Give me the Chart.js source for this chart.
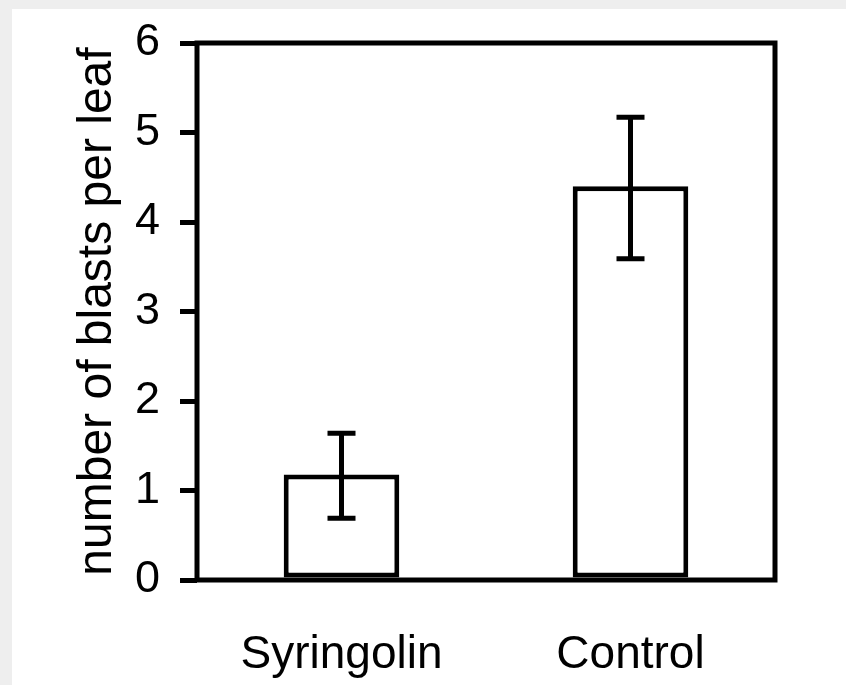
<!DOCTYPE html>
<html lang="en">
<head>
    <meta charset="UTF-8">
    <title>number of blasts per leaf</title>
    <style>
        body {
            margin: 0;
            background-color: #eeeeee;
            overflow: hidden;
        }
        #panel {
            position: absolute;
            left: 12px;
            top: 9px;
            width: 834px;
            height: 676px;
            background-color: #ffffff;
        }
    </style>
</head>
<body>
    <div id="panel">
        <canvas id="blastChart" width="834" height="676"></canvas>
    </div>

    <script src="https://cdn.jsdelivr.net/npm/chart.js"></script>
    <script>
        const categories = ["Syringolin", "Control"];
        const blastMeans = [1.18, 4.4];
        const errUpper = [1.64, 5.17];
        const errLower = [0.69, 3.59];
        const yTicks = [0, 1, 2, 3, 4, 5, 6];

        const fontFamily = '"Liberation Sans", Arial, Helvetica, sans-serif';

        // frame around the plot area (top and right sides too)
        const framePlugin = {
            id: 'frame',
            afterDraw(chart) {
                const { ctx, chartArea } = chart;
                ctx.save();
                ctx.strokeStyle = '#000';
                ctx.lineWidth = 5;
                ctx.strokeRect(chartArea.left, chartArea.top,
                    chartArea.right - chartArea.left, chartArea.bottom - chartArea.top);
                ctx.restore();
            }
        };

        // error bars drawn with the y scale
        const errorBarPlugin = {
            id: 'errorBars',
            afterDatasetsDraw(chart) {
                const { ctx } = chart;
                const yScale = chart.scales.y;
                const meta = chart.getDatasetMeta(0);
                ctx.save();
                ctx.strokeStyle = '#000';
                ctx.lineWidth = 5;
                meta.data.forEach((bar, i) => {
                    const x = bar.x;
                    const yHi = yScale.getPixelForValue(errUpper[i]);
                    const yLo = yScale.getPixelForValue(errLower[i]);
                    const cap = 14;
                    ctx.beginPath();
                    ctx.moveTo(x, yHi);
                    ctx.lineTo(x, yLo);
                    ctx.moveTo(x - cap, yHi);
                    ctx.lineTo(x + cap, yHi);
                    ctx.moveTo(x - cap, yLo);
                    ctx.lineTo(x + cap, yLo);
                    ctx.stroke();
                });
                ctx.restore();
            }
        };

        const ctx = document.getElementById('blastChart').getContext('2d');
        const chart = new Chart(ctx, {
            type: 'bar',
            data: {
                labels: categories,
                datasets: [{
                    data: blastMeans,
                    backgroundColor: '#ffffff',
                    borderColor: '#000000',
                    borderWidth: 5,
                    borderSkipped: false,
                    barPercentage: 0.4,
                    categoryPercentage: 1.0
                }]
            },
            options: {
                responsive: false,
                animation: false,
                devicePixelRatio: 1,
                layout: {
                    padding: { left: 0, top: 34, right: 71, bottom: 0 }
                },
                plugins: {
                    legend: { display: false },
                    tooltip: { enabled: false }
                },
                scales: {
                    x: {
                        grid: { display: false },
                        border: { display: false },
                        ticks: {
                            color: '#000',
                            padding: 40,
                            font: { family: fontFamily, size: 46 }
                        },
                        afterFit(scale) {
                            scale.height = 105;
                            scale.paddingLeft = 0;
                            scale.paddingRight = 0;
                        }
                    },
                    y: {
                        min: 0,
                        max: 6,
                        afterBuildTicks(scale) {
                            scale.ticks = yTicks.map(v => ({ value: v }));
                        },
                        grid: {
                            drawOnChartArea: false,
                            drawTicks: true,
                            tickLength: 17,
                            lineWidth: 5,
                            color: '#000'
                        },
                        border: { display: false },
                        ticks: {
                            color: '#000',
                            padding: 20,
                            font: { family: fontFamily, size: 45 }
                        },
                        title: {
                            display: true,
                            text: 'number of blasts per leaf',
                            color: '#000',
                            padding: { top: 57, bottom: 0 },
                            font: { family: fontFamily, size: 48 }
                        },
                        afterFit(scale) {
                            scale.width = 185;
                            scale.paddingTop = 0;
                            scale.paddingBottom = 0;
                        }
                    }
                }
            },
            plugins: [errorBarPlugin, framePlugin]
        });
    </script>
</body>
</html>
